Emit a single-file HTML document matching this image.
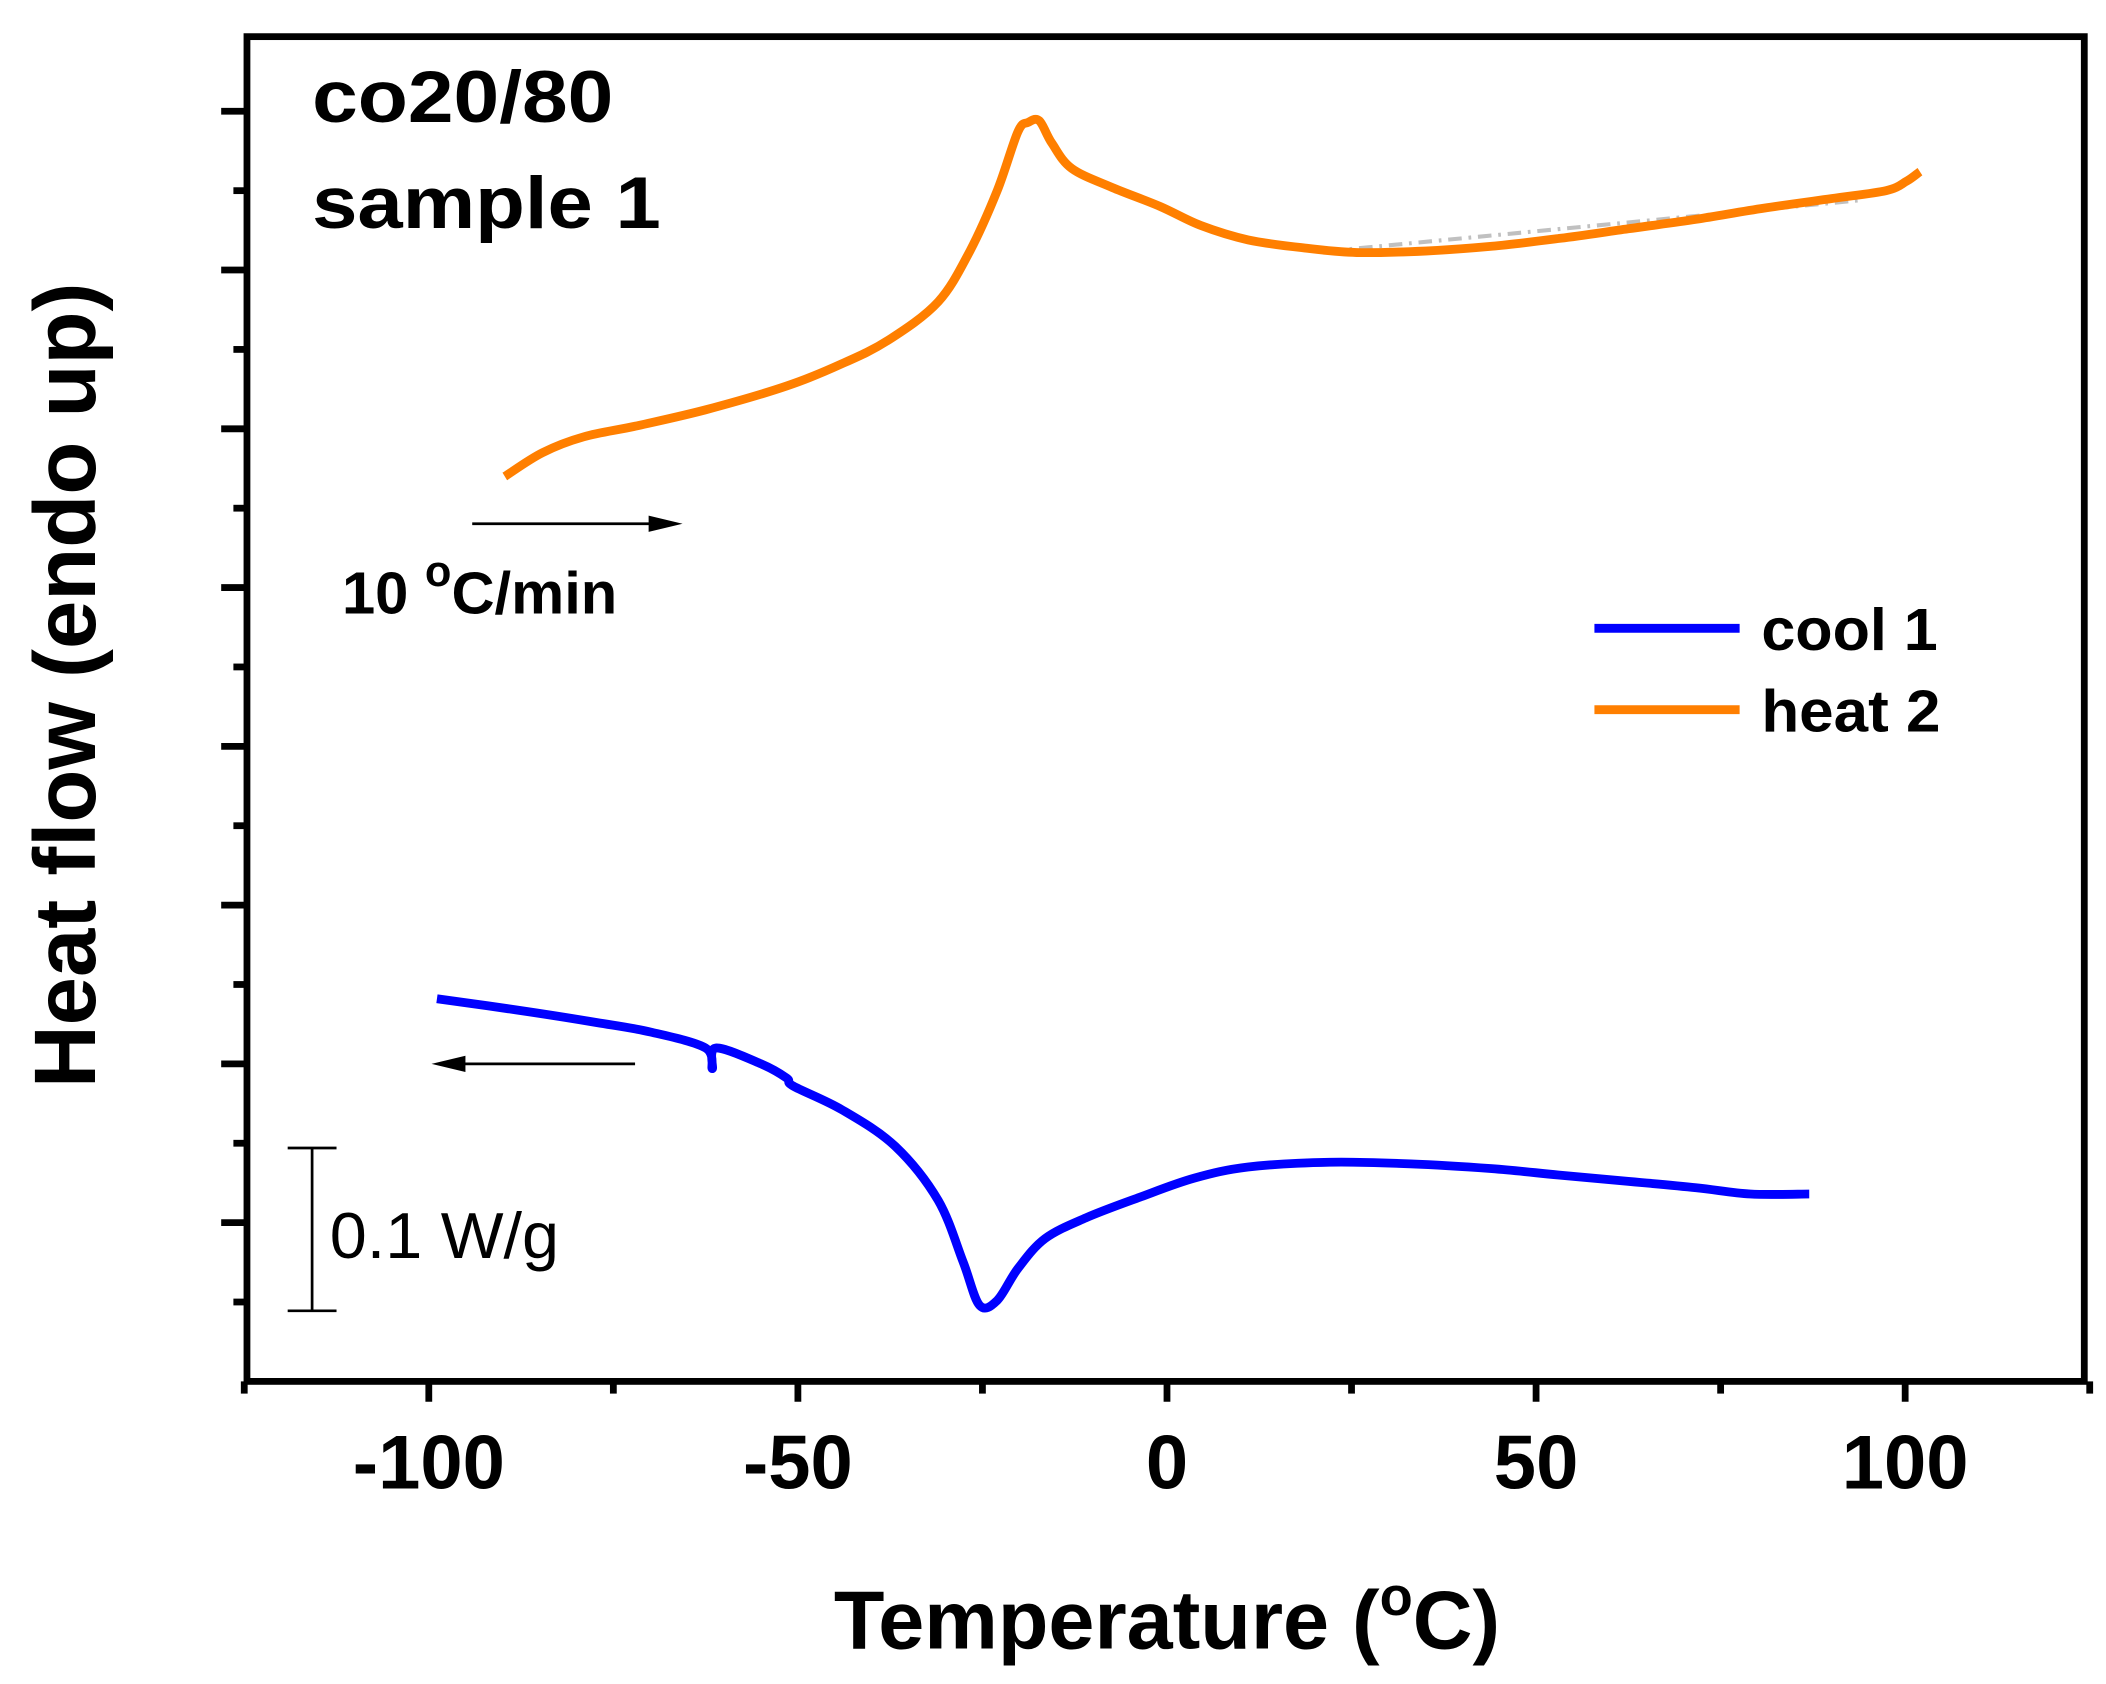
<!DOCTYPE html>
<html><head><meta charset="utf-8"><style>
html,body{margin:0;padding:0;background:#fff;}
svg{display:block;}
text{font-family:"Liberation Sans",Arial,sans-serif;}
</style></head><body>
<svg id="chart" width="2106" height="1684" viewBox="0 0 1552 1241" xmlns="http://www.w3.org/2000/svg">
<rect x="0" y="0" width="1552" height="1241" fill="#fff"/>
<g id="marks"></g>
<rect x="182" y="27" width="1354" height="991" fill="none" stroke="#000" stroke-width="5"/>
<g id="ticks"></g>
<text x="230" y="90" font-size="54" font-weight="bold" textLength="222" lengthAdjust="spacingAndGlyphs">co20/80</text>
<text x="230" y="168" font-size="54" font-weight="bold" textLength="257" lengthAdjust="spacingAndGlyphs">sample 1</text>
<text x="252" y="452" font-size="44" font-weight="bold">10 <tspan dy="-20" font-size="32">o</tspan><tspan dy="20">C/min</tspan></text>
<g><line x1="348" y1="386" x2="485" y2="386" stroke="#000" stroke-width="2"/><polygon points="503,386 478,380 478,392" fill="#000"/></g>
<g><line x1="336" y1="784" x2="468" y2="784" stroke="#000" stroke-width="2"/><polygon points="318,784 343,778 343,790" fill="#000"/></g>
<g><line x1="230" y1="846" x2="230" y2="966" stroke="#000" stroke-width="2"/><line x1="212" y1="846" x2="248" y2="846" stroke="#000" stroke-width="2"/><line x1="212" y1="966" x2="248" y2="966" stroke="#000" stroke-width="2"/></g>
<text x="243" y="927" font-size="48" textLength="169" lengthAdjust="spacingAndGlyphs">0.1 W/g</text>
<g>
<line x1="1175" y1="463" x2="1282" y2="463" stroke="#0000ff" stroke-width="6.5"/>
<text x="1298" y="479" font-size="44" font-weight="bold" textLength="130" lengthAdjust="spacingAndGlyphs">cool 1</text>
<line x1="1175" y1="523" x2="1282" y2="523" stroke="#ff7f00" stroke-width="6.5"/>
<text x="1298" y="539" font-size="44" font-weight="bold" textLength="132" lengthAdjust="spacingAndGlyphs">heat 2</text>
</g>
<text x="860" y="1215" font-size="61" font-weight="bold" text-anchor="middle">Temperature (<tspan dy="-25" font-size="40">o</tspan><tspan dy="25">C)</tspan></text>
<text transform="translate(70,505) rotate(-90)" font-size="64" font-weight="bold" text-anchor="middle">Heat flow (endo up)</text>
</svg>
<script>
const xTicks = [-100, -50, 0, 50, 100];
const xTickLabels = ["-100", "-50", "0", "50", "100"];
const heatT = [-89.7,-84.6,-79,-71.7,-62.5,-51.5,-44,-37.7,-31,-26.7,-23,-20.2,-18.8,-17.3,-15.6,-12.9,-7.4,-0.9,4.6,11,18.4,25.7,35,44,53.3,62.5,71.7,80.9,90,97.4,100.2,102];
const heatY = [0.570,0.585,0.595,0.602,0.612,0.627,0.641,0.656,0.680,0.712,0.750,0.787,0.793,0.794,0.780,0.764,0.752,0.740,0.728,0.719,0.714,0.711,0.712,0.715,0.720,0.726,0.732,0.739,0.745,0.750,0.756,0.762];
const baseT = [22, 94];
const baseY = [0.712, 0.744];
const coolT = [-98.9,-88.2,-77.2,-69.9,-62.5,-61.6,-61.1,-55,-51.5,-50.6,-44,-36.8,-31,-27.6,-25.4,-23,-20.2,-16.5,-11,-3.7,3.7,11,22,33,44,53,62.5,71.7,79,87];
const coolY = [0.241,0.234,0.226,0.220,0.210,0.197,0.210,0.200,0.191,0.186,0.171,0.148,0.114,0.075,0.048,0.051,0.071,0.090,0.103,0.116,0.128,0.135,0.138,0.137,0.134,0.130,0.126,0.122,0.118,0.118];
const yMajor = [0.1,0.2,0.3,0.4,0.5,0.6,0.7,0.8];
const X0 = 860, XS = 5.44, Y0 = 1018, YS = 1170;
function sx(t){ return X0 + t*XS; }
function sy(v){ return Y0 - v*YS; }
const NS = "http://www.w3.org/2000/svg";
const marks = document.getElementById('marks');
const ticks = document.getElementById('ticks');
function path(T, Y, color, w, dash, name){
  const p = document.createElementNS(NS,'path');
  const P = T.map((t,i)=>[sx(t), sy(Y[i])]);
  let d = 'M' + P[0][0].toFixed(1) + ',' + P[0][1].toFixed(1);
  for(let i=0;i<P.length-1;i++){
    const p0 = P[Math.max(0,i-1)], p1 = P[i], p2 = P[i+1], p3 = P[Math.min(P.length-1,i+2)];
    const c1x = p1[0] + (p2[0]-p0[0])/6, c1y = p1[1] + (p2[1]-p0[1])/6;
    const c2x = p2[0] - (p3[0]-p1[0])/6, c2y = p2[1] - (p3[1]-p1[1])/6;
    d += 'C' + c1x.toFixed(1)+','+c1y.toFixed(1)+' '+c2x.toFixed(1)+','+c2y.toFixed(1)+' '+p2[0].toFixed(1)+','+p2[1].toFixed(1);
  }
  p.setAttribute('d', d);
  p.setAttribute('fill','none');
  p.setAttribute('stroke',color);
  p.setAttribute('stroke-width',w);
  p.setAttribute('stroke-linejoin','round');
  if(dash) p.setAttribute('stroke-dasharray',dash);
  
  
  marks.appendChild(p);
}
path(baseT, baseY, '#c0c0c0', 3, '10,5,2,5', 'baseline-dashed');
path(heatT, heatY, '#ff7f00', 6.5, null, 'heat-2-curve');
path(coolT, coolY, '#0000ff', 6.5, null, 'cool-1-curve');
function line(x1,y1,x2,y2,name){
  const l = document.createElementNS(NS,'line');
  l.setAttribute('x1',x1); l.setAttribute('y1',y1); l.setAttribute('x2',x2); l.setAttribute('y2',y2);
  l.setAttribute('stroke','#000'); l.setAttribute('stroke-width',5);
  
  
  ticks.appendChild(l);
}
for(let i=0;i<xTicks.length;i++){
  line(sx(xTicks[i]),1018,sx(xTicks[i]),1033,'x-tick-major');
  const t = document.createElementNS(NS,'text');
  t.setAttribute('x', sx(xTicks[i])); t.setAttribute('y', 1097);
  t.setAttribute('font-size', 56); t.setAttribute('font-weight','bold');
  t.setAttribute('text-anchor','middle');
  t.textContent = xTickLabels[i];
  
  
  ticks.appendChild(t);
}
for(let v=-125; v<=125; v+=50){ line(sx(v),1018,sx(v),1027,'x-tick-minor'); }
for(const v of yMajor){
  line(163,sy(v),182,sy(v),'y-tick-major');
  line(172,sy(v-0.05),182,sy(v-0.05),'y-tick-minor');
}
</script>
</body></html>
